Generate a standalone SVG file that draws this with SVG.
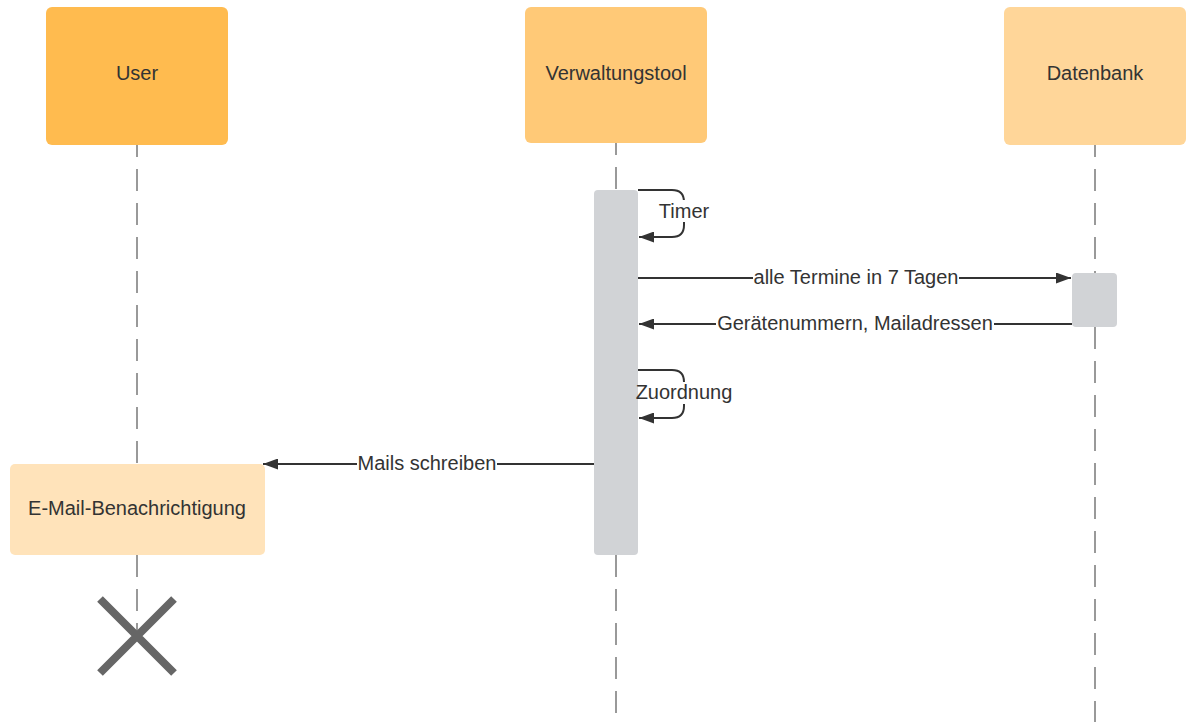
<svg xmlns="http://www.w3.org/2000/svg" width="1191" height="722" viewBox="0 0 1191 722">
<style>
.t{font-family:"Liberation Sans",Arial,sans-serif;font-size:20px;fill:#333;text-anchor:middle;dominant-baseline:central}
.life{stroke:#999;stroke-width:2;stroke-dasharray:22 12;fill:none}
.msg{stroke:#333;stroke-width:2;fill:none}
.act{fill:#d1d3d6}
.bg{fill:#fff}
</style>
<defs>
<marker id="ah" markerWidth="15" markerHeight="11" refX="15" refY="5.5" orient="auto" markerUnits="userSpaceOnUse">
<path d="M0,0 L15,5.5 L0,11 Z" fill="#333"/>
</marker>
</defs>
<rect width="1191" height="722" fill="#fff"/>
<g id="lifelines">
<line class="life" x1="137" y1="145" x2="137" y2="464" stroke-dashoffset="10"/>
<line class="life" x1="137" y1="555" x2="137" y2="636"/>
<line class="life" x1="616" y1="143" x2="616" y2="190" stroke-dashoffset="10"/>
<line class="life" x1="616" y1="555" x2="616" y2="722"/>
<line class="life" x1="1095" y1="145" x2="1095" y2="273" stroke-dashoffset="10"/>
<line class="life" x1="1095" y1="327" x2="1095" y2="722"/>
</g>
<g id="user"><rect x="46" y="7" width="182" height="138" rx="6" fill="#ffbb4f"/><text class="t" x="137" y="73">User</text></g>
<g id="verwaltungstool"><rect x="525" y="7" width="182" height="136" rx="6" fill="#ffc977"/><text class="t" x="616" y="73">Verwaltungstool</text></g>
<g id="datenbank"><rect x="1004" y="7" width="182" height="138" rx="6" fill="#ffd699"/><text class="t" x="1095" y="73">Datenbank</text></g>
<g id="act-verwaltungstool"><rect class="act" x="594" y="190" width="44" height="365" rx="4"/></g>
<g id="act-datenbank"><rect class="act" x="1072" y="273" width="45" height="54" rx="4"/></g>
<g id="email"><rect x="10" y="464" width="255" height="91" rx="5" fill="#ffe3ba"/><text class="t" x="137" y="508">E-Mail-Benachrichtigung</text></g>
<g id="destroy"><path d="M100,599 L174,673 M174,599 L100,673" stroke="#666" stroke-width="8" fill="none"/></g>
<g id="connectors">
<path class="msg" d="M638,190 H672 Q684,190 684,202 V225 Q684,237 672,237 H639" marker-end="url(#ah)"/>
<rect class="bg" x="658" y="200" width="52" height="22"/>
<text class="t" x="684" y="211">Timer</text>
<line class="msg" x1="638" y1="278" x2="1071" y2="278" marker-end="url(#ah)"/>
<rect class="bg" x="753" y="267" width="206" height="22"/>
<text class="t" x="856" y="277">alle Termine in 7 Tagen</text>
<line class="msg" x1="1072" y1="324" x2="639" y2="324" marker-end="url(#ah)"/>
<rect class="bg" x="716" y="313" width="278" height="22"/>
<text class="t" x="855" y="323">Gerätenummern, Mailadressen</text>
<path class="msg" d="M638,370 H672 Q684,370 684,382 V406 Q684,418 672,418 H639" marker-end="url(#ah)"/>
<rect class="bg" x="639" y="382" width="94" height="22"/>
<text class="t" x="684" y="392">Zuordnung</text>
<line class="msg" x1="594" y1="464" x2="263" y2="464" marker-end="url(#ah)"/>
<rect class="bg" x="357" y="453" width="140" height="22"/>
<text class="t" x="427" y="463">Mails schreiben</text>
</g>
</svg>
